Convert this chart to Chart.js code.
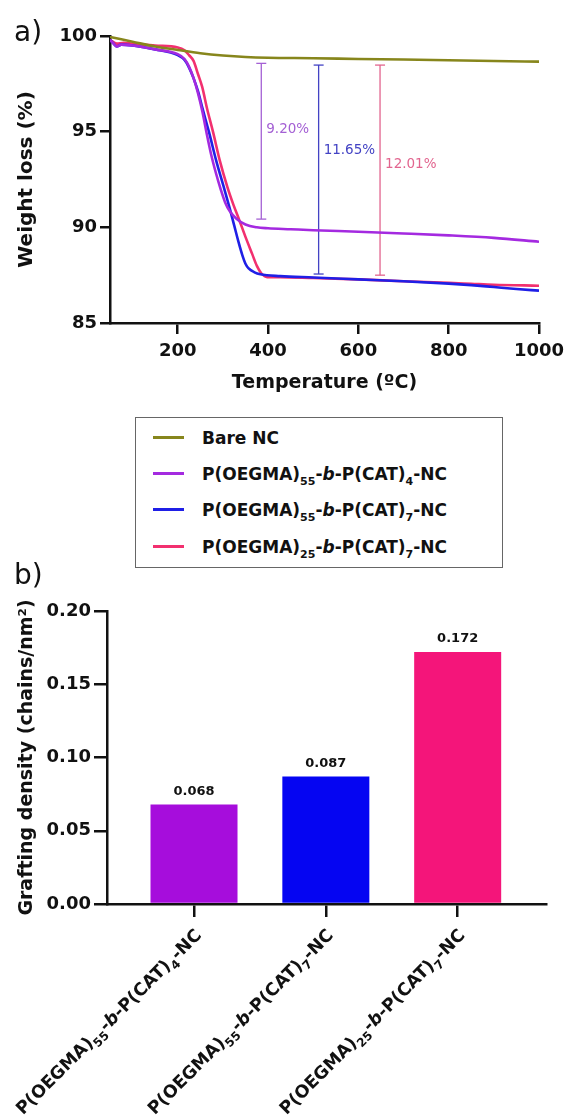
<!DOCTYPE html>
<html><head><meta charset="utf-8">
<script src="https://cdn.jsdelivr.net/npm/chart.js@4.4.0/dist/chart.umd.min.js"></script>
<style>
html,body{margin:0;padding:0;background:#fff;}
body{width:564px;height:1120px;position:relative;overflow:hidden;font-family:"DejaVu Sans",sans-serif;color:#111;}
canvas{position:absolute;left:0;}
#c1{top:0;}
#c2{top:560px;}
.panel{position:absolute;left:14px;font-size:28px;line-height:34px;color:#111;}
#legend{position:absolute;left:135px;top:417px;width:366px;height:149px;border:1.5px solid #666;background:#fff;}
.item{position:absolute;left:0;height:24px;width:360px;}
.sw{position:absolute;left:17px;top:10px;width:31px;height:3px;}
.lt{position:absolute;left:66px;top:0;font-weight:bold;font-size:17px;line-height:24px;white-space:nowrap;}
.sub{font-size:11px;position:relative;top:5px;}
</style>
</head><body>
<canvas id="c1" width="564" height="400"></canvas>
<div class="panel" style="top:15px">a)</div>
<div id="legend"></div>
<canvas id="c2" width="564" height="560"></canvas>
<div class="panel" style="top:558px">b)</div>
<script>
// ---------- Data: TGA (panel a) ----------
const seriesNames = ['Bare NC','P(OEGMA)55-b-P(CAT)4-NC','P(OEGMA)55-b-P(CAT)7-NC','P(OEGMA)25-b-P(CAT)7-NC'];
const seriesColors = ['#87861c','#a42ae0','#1f1fe6','#f2306f'];

const bareT = [50,100,150,200,250,300,350,400,500,600,700,800,900,1000];
const bareW = [99.95,99.7,99.45,99.27,99.1,98.98,98.9,98.86,98.84,98.8,98.77,98.73,98.69,98.66];

const p55c4T = [50,58,65,75,100,150,200,215,225,235,245,255,265,275,285,295,305,315,330,350,375,400,450,500,600,700,800,900,1000];
const p55c4W = [99.8,99.6,99.45,99.55,99.5,99.3,99.05,98.8,98.4,97.8,97.0,96.0,94.8,93.7,92.8,92.0,91.3,90.85,90.45,90.15,90.0,89.95,89.9,89.85,89.77,89.68,89.58,89.45,89.25];

const p55c7T = [50,58,65,75,100,150,200,215,225,235,245,255,269,285,302,315,325,335,343,350,357,370,383,427,500,600,700,800,850,900,950,1000];
const p55c7W = [99.8,99.6,99.45,99.55,99.5,99.3,99.0,98.75,98.35,97.8,97.1,96.2,95.0,93.5,92.1,91.0,90.1,89.2,88.55,88.1,87.85,87.65,87.55,87.45,87.38,87.28,87.18,87.06,86.98,86.88,86.78,86.69];

const p25c7T = [50,65,80,100,150,200,215,225,235,245,254,265,278,293,310,323,336,350,365,375,385,398,427,500,600,700,800,850,900,1000];
const p25c7W = [99.8,99.6,99.65,99.6,99.5,99.4,99.25,99.0,98.7,98.0,97.35,96.2,95.0,93.5,92.1,91.2,90.4,89.5,88.6,88.0,87.6,87.4,87.4,87.35,87.28,87.18,87.1,87.05,87.0,86.95];

const xTicksA = [200,400,600,800,1000];
const yTicksA = [85,90,95,100];

// weight-loss markers
const lossT = [385,512,648];
const lossTop = [98.57,98.48,98.48];
const lossBottom = [90.43,87.56,87.5];
const lossLabels = ['9.20%','11.65%','12.01%'];
const lossLabelW = [95.09,93.99,93.26];
const lossColors = ['#a460d4','#4343c4','#e2658f'];

// ---------- Data: grafting density (panel b) ----------
const categories = ['P(OEGMA)55-b-P(CAT)4-NC','P(OEGMA)55-b-P(CAT)7-NC','P(OEGMA)25-b-P(CAT)7-NC'];
const densities = [0.068,0.087,0.172];
const densityLabels = ['0.068','0.087','0.172'];
const barColors = ['#a60ddc','#0505f2','#f4157a'];
const yTicksB = [0,0.05,0.10,0.15,0.20];

// ---------- helpers ----------
function parseRich(label){
  const parts=[];
  const push=(text,sub,italic)=>{
    const last=parts[parts.length-1];
    if(last && last.sub===sub && last.italic===italic){last.text+=text;}
    else parts.push({text,sub,italic});
  };
  let i=0;
  while(i<label.length){
    const ch=label[i];
    if(ch===')'){
      push(')',false,false); i++;
      let d='';
      while(i<label.length && /\d/.test(label[i])){d+=label[i];i++;}
      if(d) push(d,true,false);
      continue;
    }
    if(ch==='b' && label[i-1]==='-' && label[i+1]==='-'){push('b',false,true); i++; continue;}
    push(ch,false,false); i++;
  }
  return parts;
}
function richHTML(label){
  return parseRich(label).map(p=>p.sub?'<span class="sub">'+p.text+'</span>':(p.italic?'<i>'+p.text+'</i>':p.text)).join('');
}
function drawRich(ctx,parts,size,x,y){
  const f=p=>(p.italic?'italic ':'')+'bold '+(p.sub?Math.round(size*0.66):size)+'px "DejaVu Sans"';
  let total=0;
  const ws=parts.map(p=>{ctx.font=f(p);const w=ctx.measureText(p.text).width;total+=w;return w;});
  let cx=x-total;
  parts.forEach((p,k)=>{ctx.font=f(p);ctx.fillText(p.text,cx,y+(p.sub?size*0.3:0));cx+=ws[k];});
}

// ---------- legend (HTML) ----------
const legendTops=[8,44,80,117];
document.getElementById('legend').innerHTML = seriesNames.map((n,i)=>
  '<div class="item" style="top:'+legendTops[i]+'px"><div class="sw" style="background:'+seriesColors[i]+'"></div><div class="lt">'+richHTML(n)+'</div></div>').join('');

Chart.defaults.font.family='"DejaVu Sans"';
Chart.defaults.color='#111';

const mk=(T,W)=>T.map((t,i)=>({x:t,y:W[i]}));
const curveData=[mk(bareT,bareW),mk(p55c4T,p55c4W),mk(p55c7T,p55c7W),mk(p25c7T,p25c7W)];

const datasetsA = curveData.map((d,i)=>({
  type:'line',label:seriesNames[i],data:d,borderColor:seriesColors[i],borderWidth:2.6,
  pointRadius:0,cubicInterpolationMode:'monotone',fill:false
}));
lossT.forEach((t,i)=>{
  datasetsA.push({type:'line',label:'loss'+i,data:[{x:t,y:lossTop[i]},{x:t,y:lossBottom[i]}],
    borderColor:lossColors[i],borderWidth:1.3,pointStyle:'line',pointRadius:5,pointBorderWidth:1.3,
    pointBorderColor:lossColors[i],pointBackgroundColor:lossColors[i],fill:false});
});

const lossTextPlugin={
  id:'lossText',
  afterDatasetsDraw(chart){
    const ctx=chart.ctx,xs=chart.scales.x,ys=chart.scales.y;
    ctx.save();
    ctx.font='13.5px "DejaVu Sans"';
    ctx.textAlign='left';ctx.textBaseline='middle';
    lossLabels.forEach((l,i)=>{
      ctx.fillStyle=lossColors[i];
      ctx.fillText(l,xs.getPixelForValue(lossT[i])+5,ys.getPixelForValue(lossLabelW[i]));
    });
    ctx.restore();
  }
};

const axisCommon = (tickLen)=>({
  grid:{drawOnChartArea:false,drawTicks:true,tickLength:tickLen,color:'#111',lineWidth:2.5,offset:false},
  border:{display:true,color:'#111',width:2.5}
});

new Chart(document.getElementById('c1'),{
  data:{datasets:datasetsA},
  options:{
    responsive:false,animation:false,
    layout:{padding:{left:0,right:25,top:36,bottom:0}},
    plugins:{legend:{display:false},tooltip:{enabled:false}},
    scales:{
      x:Object.assign({type:'linear',min:50,max:1000,
        afterBuildTicks:s=>{s.ticks=xTicksA.map(v=>({value:v}));},
        afterFit:s=>{s.height=77;s.paddingRight=0;s.paddingLeft=0;},
        ticks:{font:{size:18,weight:'bold'},color:'#111',padding:7,maxRotation:0,autoSkip:false,callback:v=>String(v)},
        title:{display:true,text:'Temperature (ºC)',font:{size:19,weight:'bold'},color:'#111',padding:{top:0,bottom:6}}
      },axisCommon(11)),
      y:Object.assign({type:'linear',min:85,max:100,
        afterBuildTicks:s=>{s.ticks=yTicksA.map(v=>({value:v}));},
        afterFit:s=>{s.width=110;},
        ticks:{font:{size:18,weight:'bold'},color:'#111',padding:3,callback:v=>String(v)},
        title:{display:true,text:'Weight loss (%)',font:{size:20,weight:'bold'},color:'#111',padding:{top:15,bottom:0}}
      },axisCommon(10))
    }
  },
  plugins:[lossTextPlugin]
});

// ---------- panel b ----------
const barLabelPlugin={
  id:'barLabels',
  afterDraw(chart){
    const ctx=chart.ctx;
    const meta=chart.getDatasetMeta(0);
    ctx.save();
    ctx.fillStyle='#111';
    ctx.font='bold 13px "DejaVu Sans"';
    ctx.textAlign='center';ctx.textBaseline='middle';
    meta.data.forEach((el,i)=>{ctx.fillText(densityLabels[i],el.x,el.y-13);});
    const xs=chart.scales.x;
    ctx.textAlign='left';ctx.textBaseline='alphabetic';
    categories.forEach((c,i)=>{
      const px=xs.getPixelForValue(i);
      ctx.save();
      ctx.translate(px+4,xs.top+28);
      ctx.rotate(-Math.PI/4);
      drawRich(ctx,parseRich(c),17.5,0,6);
      ctx.restore();
    });
    ctx.restore();
  }
};

new Chart(document.getElementById('c2'),{
  type:'bar',
  data:{datasets:[{data:densities.map((v,i)=>({x:i,y:v})),backgroundColor:barColors,borderWidth:0,
    barPercentage:0.66,categoryPercentage:1}]},
  options:{
    responsive:false,animation:false,
    layout:{padding:{left:0,right:18,top:51,bottom:0}},
    plugins:{legend:{display:false},tooltip:{enabled:false}},
    scales:{
      x:Object.assign({type:'linear',min:-0.66,max:2.67,offset:false,
        afterBuildTicks:s=>{s.ticks=categories.map((c,i)=>({value:i}));},
        afterFit:s=>{s.height=216;s.paddingRight=0;s.paddingLeft=0;},
        ticks:{callback:()=>'',autoSkip:false,maxRotation:0}
      },axisCommon(13)),
      y:Object.assign({type:'linear',min:0,max:0.2,
        afterBuildTicks:s=>{s.ticks=yTicksB.map(v=>({value:v}));},
        afterFit:s=>{s.width=107;},
        ticks:{font:{size:18,weight:'bold'},color:'#111',padding:3,callback:v=>Number(v).toFixed(2)},
        title:{display:true,text:'Grafting density (chains/nm²)',font:{size:19,weight:'bold'},color:'#111',padding:{top:16,bottom:0}}
      },axisCommon(13))
    }
  },
  plugins:[barLabelPlugin]
});
</script>
</body></html>
